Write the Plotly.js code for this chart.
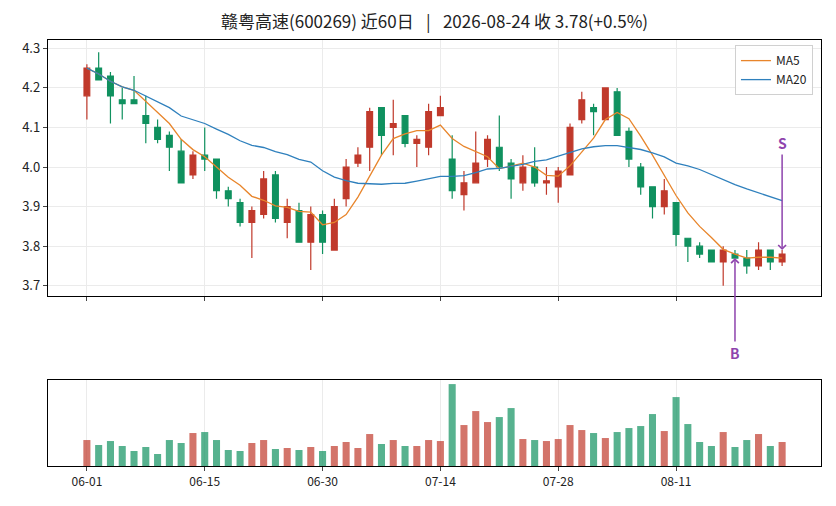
<!DOCTYPE html>
<html>
<head>
<meta charset="utf-8">
<script src="https://cdn.plot.ly/plotly-3.0.1.min.js"></script>
<style>
html,body{margin:0;padding:0;background:#fff}
#chart{width:836px;height:506px}
</style>
</head>
<body>
<div id="chart"></div>
<script>
// 赣粤高速 近60日 K线 + 成交量

var dates=['06-01','06-02','06-03','06-04','06-05','06-08','06-09','06-10','06-11','06-12',
  '06-15','06-16','06-17','06-18','06-22','06-23','06-24','06-25','06-26','06-29',
  '06-30','07-01','07-02','07-03','07-06','07-07','07-08','07-09','07-10','07-13',
  '07-14','07-15','07-16','07-17','07-20','07-21','07-22','07-23','07-24','07-27',
  '07-28','07-29','07-30','07-31','08-03','08-04','08-05','08-06','08-07','08-10',
  '08-11','08-12','08-13','08-14','08-17','08-18','08-19','08-20','08-21','08-24']

var open_=[4.18,4.25,4.23,4.17,4.17,4.13,4.10,4.08,4.04,3.98,
  4.03,4.02,3.94,3.91,3.86,3.88,3.98,3.86,3.89,3.81,
  3.88,3.79,3.92,4.01,4.05,4.15,4.10,4.13,4.06,4.05,
  4.13,4.02,3.93,3.96,4.02,4.05,4.01,3.96,4.00,3.96,
  3.95,3.98,4.12,4.15,4.12,4.19,4.09,4.00,3.95,3.90,
  3.91,3.82,3.80,3.79,3.76,3.78,3.77,3.75,3.79,3.76]
var high=[4.26,4.29,4.24,4.20,4.23,4.18,4.12,4.09,4.07,4.04,
  4.10,4.02,3.95,3.92,3.90,3.99,3.99,3.92,3.91,3.90,
  3.89,3.92,4.02,4.05,4.15,4.15,4.17,4.13,4.08,4.16,
  4.18,4.08,3.99,4.09,4.08,4.13,4.02,4.03,4.05,4.00,
  4.00,4.11,4.19,4.16,4.20,4.20,4.10,4.01,3.95,3.97,
  3.91,3.82,3.81,3.79,3.80,3.79,3.79,3.81,3.79,3.79]
var low=[4.12,4.22,4.11,4.12,4.16,4.06,4.06,3.99,3.96,3.97,
  3.99,3.92,3.90,3.85,3.77,3.87,3.86,3.82,3.81,3.74,
  3.78,3.79,3.90,4.00,3.99,4.03,4.03,4.05,4.00,4.03,
  4.13,3.92,3.89,3.96,4.00,3.99,3.92,3.94,3.95,3.93,
  3.91,3.98,4.11,4.08,4.12,4.08,4.00,3.93,3.87,3.88,
  3.80,3.76,3.77,3.76,3.70,3.77,3.73,3.74,3.74,3.75]
var close=[4.25,4.22,4.18,4.16,4.16,4.11,4.07,4.05,3.96,4.03,
  4.02,3.94,3.92,3.86,3.89,3.97,3.87,3.90,3.81,3.88,
  3.81,3.90,4.00,4.03,4.14,4.08,4.11,4.06,4.07,4.14,
  4.15,3.94,3.96,4.01,4.07,4.00,3.97,4.00,3.96,3.965,
  3.99,4.10,4.17,4.14,4.20,4.08,4.02,3.95,3.90,3.94,
  3.83,3.80,3.78,3.76,3.79,3.77,3.75,3.79,3.76,3.78]
// 成交量(万手)
var volume=[26,21,25,20,15,19,12,26,23,33,
  34,26,16,15,23,26,17,18,16,19,
  15,20,24,18,32,22,26,20,20,26,
  25,82,41,55,44,49,58,27,26,25,
  27,41,36,33,28,34,38,40,52,35,
  69,42,24,20,34,19,26,32,20,24]

// B/S 信号
var buyIdx=55, sellIdx=59

var upColor='#c0392b', downColor='#10915f'

function ma(arr,n){
  return arr.map(function(v,i){
    var s=0, k=0
    for(var j=Math.max(0,i-n+1);j<=i;j++){s+=arr[j];k++}
    return s/k
  })
}

var volColors=close.map(function(c,i){
  return c>open_[i] ? 'rgba(192,57,43,0.7)' : 'rgba(16,145,95,0.7)'
})

var tickv=dates.filter(function(d,i){return i%10==0})

var candle={
  type:'candlestick', x:dates, open:open_, high:high, low:low, close:close,
  xaxis:'x', yaxis:'y',
  increasing:{line:{color:upColor,width:1.2},fillcolor:upColor},
  decreasing:{line:{color:downColor,width:1.2},fillcolor:downColor},
  whiskerwidth:0, showlegend:false, hoverinfo:'skip'
}
var ma5={
  type:'scatter', mode:'lines', x:dates, y:ma(close,5), name:'MA5',
  line:{color:'#e8852b',width:1.3}, xaxis:'x', yaxis:'y'
}
var ma20={
  type:'scatter', mode:'lines', x:dates, y:ma(close,20), name:'MA20',
  line:{color:'#2f80bd',width:1.3}, xaxis:'x', yaxis:'y'
}
var vol={
  type:'bar', x:dates, y:volume, marker:{color:volColors,line:{width:0}},
  width:0.6, xaxis:'x2', yaxis:'y2', showlegend:false
}

var fnt='"Noto Sans CJK SC", "Noto Sans", sans-serif'
var maxVol=Math.max.apply(null,volume)
var pct=((close[59]/close[58]-1)*100).toFixed(1)

var layout={
  width:836, height:506,
  margin:{l:48,r:15,t:40,b:40},
  paper_bgcolor:'#fff', plot_bgcolor:'#fff',
  font:{family:fnt,size:12,color:'#222'},
  title:{text:'赣粤高速(600269) 近60日 \u2002|\u2002 2026-08-24 收 '+close[59].toFixed(2)+'(+'+pct+'%)',
    xref:'paper', x:0.5, xanchor:'center', y:0.956, yanchor:'middle', font:{family:fnt,size:17,color:'#222'}},
  showlegend:true,
  legend:{x:0.9896, xanchor:'right', y:0.988, yanchor:'top', bgcolor:'rgba(255,255,255,0.9)',
    bordercolor:'#d0d0d0', borderwidth:1, font:{size:12}, tracegroupgap:0},
  xaxis:{type:'category', categoryorder:'array', categoryarray:dates, range:[-3.3,62.3],
    anchor:'y', domain:[0,1], tickvals:tickv, showticklabels:false, ticks:'outside', ticklen:4,
    showgrid:true, gridcolor:'#ebebeb', showline:true, linecolor:'#000', linewidth:1.2, mirror:true,
    rangeslider:{visible:false}, zeroline:false},
  yaxis:{domain:[0.399,1], range:[3.674,4.321], tickvals:[3.7,3.8,3.9,4.0,4.1,4.2,4.3],
    ticktext:['3.7','3.8','3.9','4.0','4.1','4.2','4.3'], ticks:'outside', ticklen:4,
    showgrid:true, gridcolor:'#ebebeb', showline:true, linecolor:'#000', linewidth:1.2, mirror:true,
    zeroline:false, tickfont:{size:13}},
  xaxis2:{type:'category', categoryorder:'array', categoryarray:dates, range:[-3.3,62.3],
    anchor:'y2', matches:'x', tickvals:tickv, ticks:'outside', ticklen:4, tickfont:{size:12},
    showgrid:true, gridcolor:'#ebebeb', showline:true, linecolor:'#000', linewidth:1.2, mirror:true,
    zeroline:false},
  yaxis2:{domain:[0,0.2019], range:[0,maxVol*1.05], showticklabels:false, ticks:'',
    showgrid:false, showline:true, linecolor:'#000', linewidth:1.2, mirror:true, zeroline:false},
  annotations:[
    {x:dates[buyIdx], y:low[buyIdx], xref:'x', yref:'y', text:'<b>B</b>', showarrow:true,
      arrowhead:4, arrowsize:1, arrowwidth:1.5, arrowcolor:'#8e44ad', ax:0, ay:95,
      font:{color:'#8e44ad',size:14}},
    {x:dates[sellIdx], y:high[sellIdx], xref:'x', yref:'y', text:'<b>S</b>', showarrow:true,
      arrowhead:4, arrowsize:1, arrowwidth:1.5, arrowcolor:'#8e44ad', ax:0, ay:-107,
      font:{color:'#8e44ad',size:14}}
  ]
}

Plotly.newPlot('chart',[candle,ma5,ma20,vol],layout,{staticPlot:true})
</script>
</body>
</html>
